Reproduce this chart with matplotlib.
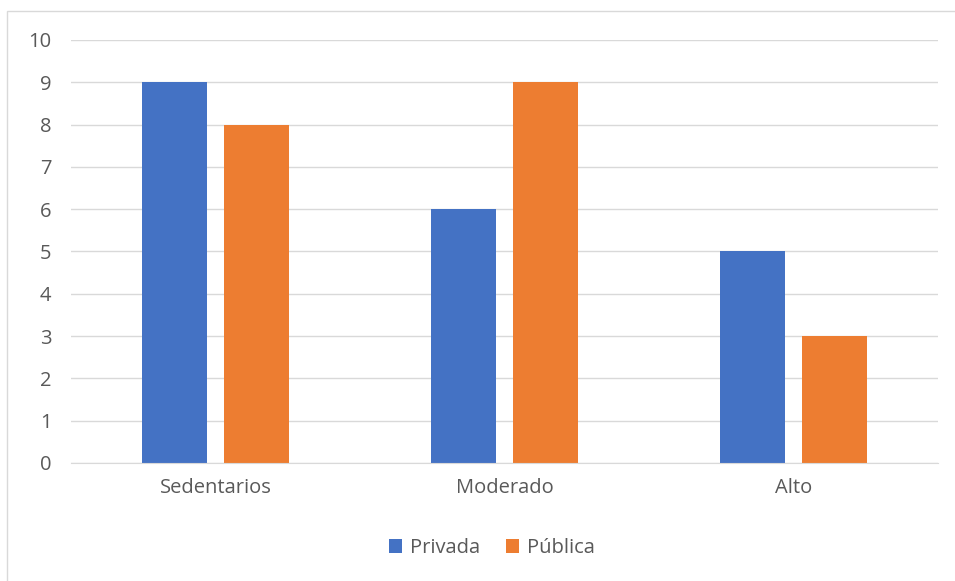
import matplotlib.pyplot as plt
import numpy as np
from matplotlib.patches import Rectangle

categories = ["Sedentarios", "Moderado", "Alto"]
privada = [9, 6, 5]
publica = [8, 9, 3]
yticks = list(range(0, 11))

blue = "#4472C4"
orange = "#ED7D31"
grey = "#595959"

plt.rcParams['font.family'] = ['Open Sans', 'DejaVu Sans']

fig = plt.figure(figsize=(9.55, 5.81), dpi=100)
W, H = 955, 581
ax = fig.add_axes([71 / W, 1 - 463 / H, (938 - 71) / W, (463 - 40) / H])

x = np.arange(len(categories))
w = 0.222
off = 0.142
ax.bar(x - off, privada, w, color=blue, label="Privada", zorder=3)
ax.bar(x + off, publica, w, color=orange, label="Pública", zorder=3)

ax.set_xlim(-0.5, 2.5)
ax.set_ylim(0, 10)
ax.set_yticks(yticks)
ax.set_xticks(x)
ax.set_xticklabels(categories)
ax.yaxis.grid(True, color="#D9D9D9", linewidth=1, zorder=0)
ax.tick_params(length=0, labelsize=14.5, labelcolor=grey)
ax.tick_params(axis='y', pad=14)
ax.tick_params(axis='x', pad=11)
for s in ["top", "right", "left"]:
    ax.spines[s].set_visible(False)
ax.spines["bottom"].set_color("#D9D9D9")
ax.spines["bottom"].set_zorder(4)

fig.legend(loc="center", bbox_to_anchor=(492 / W, 1 - 548 / H), ncol=2,
           frameon=False, fontsize=14.5, labelcolor=grey,
           handlelength=0.65, handleheight=0.65, handletextpad=0.4, columnspacing=1.3)

fig.patches.append(Rectangle((7 / W, -0.1), 1.1, 1 - 11 / H + 0.1, transform=fig.transFigure,
                             fill=False, edgecolor="#D9D9D9", linewidth=1))

fig.savefig("out.png", dpi=100)
